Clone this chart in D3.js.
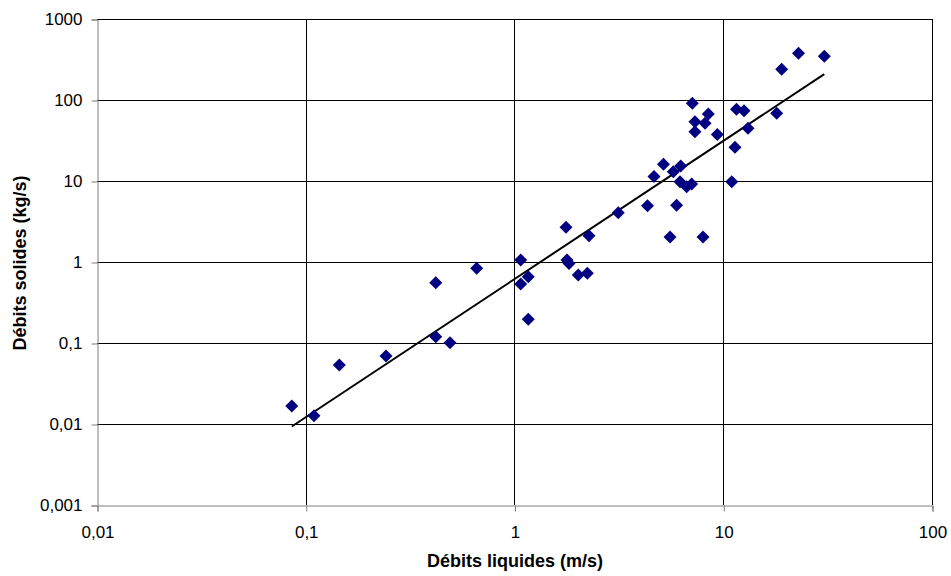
<!DOCTYPE html>
<html><head><meta charset="utf-8">
<script src="https://cdn.jsdelivr.net/npm/d3@7"></script>
<style>body{margin:0;background:#fff}svg{display:block}text{font-family:"Liberation Sans",Arial,sans-serif}</style>
</head><body><svg id="c" width="951" height="576"></svg>
<script>
const liquidFlow = [0.0857,0.1095,0.1448,0.2424,0.4195,0.4195,0.491,0.659,1.071,1.071,1.164,1.164,1.765,1.784,1.824,2.02,2.232,2.275,3.141,4.337,4.66,5.173,5.56,5.98,8.0,5.764,6.253,6.207,6.68,7.06,7.108,8.479,7.32,8.18,7.32,9.365,11.57,12.57,13.14,11.38,10.98,18.03,19.05,22.94,30.48];
const solidFlow  = [0.0167,0.01265,0.0535,0.0691,0.555,0.1196,0.101,0.836,1.059,0.535,0.658,0.196,2.68,1.06,0.958,0.691,0.725,2.112,4.06,4.955,11.37,16.12,2.035,5.01,2.035,13.02,15.31,9.8,8.505,9.18,91.0,67.2,54.0,51.6,40.6,37.5,76.8,73.8,44.7,26.1,9.8,68.5,239,377,346];
const xTicks = [0.01,0.1,1,10,100];
const yTicks = [0.001,0.01,0.1,1,10,100,1000];
const trendA = 0.615, trendB = 1.705; // power-law trend: y = a * x^b
const xTitle = "Débits liquides (m/s)";
const yTitle = "Débits solides (kg/s)";

const svg = d3.select("#c");
const x = d3.scaleLog().domain([0.01,100]).range([97,932]);
const y = d3.scaleLog().domain([0.001,1000]).range([505,19]);
const fmt = v => String(v).replace(".", ",");

// grid
svg.append("g").selectAll("line").data(xTicks.slice(1)).join("line")
  .attr("x1",d=>Math.round(x(d))+0.5).attr("x2",d=>Math.round(x(d))+0.5)
  .attr("y1",y(1000)).attr("y2",y(0.001)).attr("stroke","#000").attr("stroke-width",1);
svg.append("g").selectAll("line").data(yTicks.slice(1)).join("line")
  .attr("y1",d=>Math.round(y(d))+0.5).attr("y2",d=>Math.round(y(d))+0.5)
  .attr("x1",x(0.01)).attr("x2",x(100)).attr("stroke","#000").attr("stroke-width",1);

// axes
const xAxis = svg.append("g").attr("transform",`translate(0.5,${Math.round(y(0.001))+0.5})`)
  .call(d3.axisBottom(x).tickValues(xTicks).tickFormat(fmt).tickSize(6).tickPadding(14));
const yAxis = svg.append("g").attr("transform",`translate(${Math.round(x(0.01))+0.5},0.5)`)
  .call(d3.axisLeft(y).tickValues(yTicks).tickFormat(fmt).tickSize(6).tickPadding(9));
[xAxis,yAxis].forEach(g=>{
  g.select(".domain").attr("stroke","#808080");
  g.selectAll(".tick line").attr("stroke","#808080");
  g.selectAll("text").attr("font-size",17).attr("fill","#000").attr("font-family","'Liberation Sans',Arial,sans-serif");
});

// trend line
const ext = d3.extent(liquidFlow);
svg.append("line")
  .attr("x1",x(ext[0])).attr("y1",y(trendA*Math.pow(ext[0],trendB)))
  .attr("x2",x(ext[1])).attr("y2",y(trendA*Math.pow(ext[1],trendB)))
  .attr("stroke","#000").attr("stroke-width",2);

// points
const pts = liquidFlow.map((v,i)=>({x:v,y:solidFlow[i]}));
svg.append("g").selectAll("path").data(pts).join("path")
  .attr("transform",d=>`translate(${x(d.x)},${y(d.y)})`)
  .attr("d","M0,-6.5L6.5,0L0,6.5L-6.5,0Z")
  .attr("fill","#000080");

// titles
svg.append("text").attr("x",515).attr("y",567).attr("text-anchor","middle")
  .attr("font-size",18).attr("font-weight","bold").text(xTitle);
svg.append("text").attr("transform",`translate(26,263) rotate(-90)`)
  .attr("text-anchor","middle").attr("font-size",18).attr("font-weight","bold").text(yTitle);
</script></body></html>
